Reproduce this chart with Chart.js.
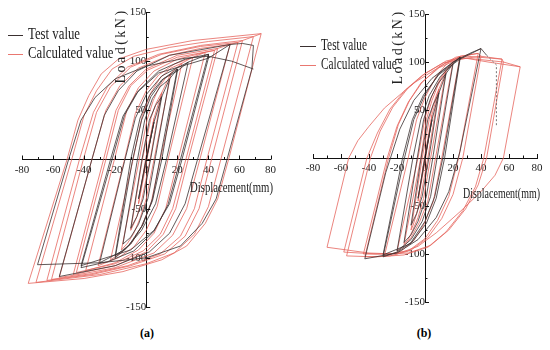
<!DOCTYPE html>
<html>
<head>
<meta charset="utf-8">
<script src="https://cdn.jsdelivr.net/npm/chart.js@4.4.1/dist/chart.umd.min.js"></script>
<style>
  html, body { margin: 0; padding: 0; background: #fff; }
  #wrap { position: relative; width: 550px; height: 350px; overflow: hidden; }
  .panel { position: absolute; top: 0; height: 318px; }
  #pa { left: 0; width: 280px; }
  #pb { left: 290px; width: 260px; }
  .cap { position: absolute; top: 326px; font: bold 12px 'Liberation Serif', serif; transform: translateX(-50%); }
</style>
</head>
<body>
<div id="wrap">
  <div class="panel" id="pa"><canvas id="chartA"></canvas></div>
  <div class="panel" id="pb"><canvas id="chartB"></canvas></div>
  <div class="cap" style="left:147px">(a)</div>
  <div class="cap" style="left:424px">(b)</div>
</div>
<script>
// tick labels
const xTicks = [-80, -60, -40, -20, 0, 20, 40, 60, 80];
const yTicks = [-150, -100, -50, 50, 100, 150];
const seriesNames = ['Test value', 'Calculated value'];

// panel (a) - test, [displacement mm, load kN]
const testA = [
  [0,0],[5,38],[0,-1],[-5,-40],[0,1],[5,38],
  [10,64],[3,2],[-2,-40],[-6,-58],[-10,-70],[-3,-2],[2,40],[6,55],[10,64],
  [15,82],[6,3],[1,-40],[-5,-66],[-10,-79],[-15,-86],[-6,-3],[-1,40],[4,62],[9,74],[15,82],
  [20,92],[9,2],[4,-40],[-2,-66],[-10,-86],[-20,-100],[-9,-2],[-3,40],[3,64],[11,82],[20,92],
  [20,90],[10,0],[4,-42],[-3,-68],[-11,-87],[-20,-98],[-10,0],[-4,42],[2,65],[10,81],[20,90],
  [27,99],[13,0],[6,-45],[-3,-72],[-14,-92],[-30,-105],[-14,-2],[-7,42],[0,66],[10,85],[27,99],
  [40,107],[22,0],[14,-46],[5,-73],[-8,-93],[-25,-104],[-42,-110],[-22,0],[-14,45],[-5,70],[8,90],[25,102],[40,107],
  [40,103],[23,0],[15,-45],[5,-72],[-10,-92],[-42,-108],[-23,0],[-15,44],[-6,68],[8,88],[40,103],
  [54,117],[33,0],[25,-45],[15,-75],[2,-94],[-20,-108],[-56,-119],[-35,0],[-27,45],[-18,70],[-6,90],[15,106],[54,117],[62,118],[69,116],[68,92],
  [52,0],[45,-40],[36,-65],[22,-88],[0,-100],[-30,-105],[-70,-107],[-50,0],[-42,40],[-33,63],[-20,82],[0,95],[25,103],[40,105],[55,100],[69,92]
];

// panel (a) - calculated
const calcA = [
  [5,42],[-0.5,0],[-5,-45],[0.5,0],[5,42],
  [10,68],[2.5,0],[-3,-42],[-6,-58],[-8.5,-67],[-10,-72],[-2.5,0],[3,42],[6,56],[8.5,64],[10,68],
  [16,88],[5,0],[0,-40],[-4,-60],[-8,-75],[-12,-85],[-16,-92],[-4.5,0],[0.5,40],[4.5,60],[8.5,74],[12.5,83],[16,88],
  [23,98],[9,0],[3,-45],[-3,-68],[-9,-84],[-16,-95],[-23,-102],[-8.5,0],[-2.5,45],[3,68],[9,83],[16,93],[23,98],
  [30,104],[14,0],[7,-48],[0,-72],[-8,-89],[-18,-100],[-31,-108],[-14,0],[-7,47],[0,70],[8,86],[18,97],[30,104],
  [38,109],[20.5,0],[12.5,-50],[5,-75],[-5,-92],[-20,-105],[-39,-113],[-20.5,0],[-12.5,50],[-5,73],[5,90],[20,102],[38,109],
  [44,111],[25.5,0],[17,-50],[9,-76],[-2,-93],[-20,-106],[-45,-115],[-26,0],[-18,50],[-10,75],[1,91],[20,104],[44,111],
  [46,113],[27,0],[19,-50],[11,-76],[0,-94],[-20,-108],[-47,-117],[-27.5,0],[-19.5,50],[-11,75],[0,92],[20,106],[46,113],
  [54,117],[34.5,0],[26,-50],[17,-77],[5,-95],[-20,-110],[-40,-116],[-56,-120],[-35,0],[-26,50],[-17,75],[-5,93],[15,106],[35,113],[54,117],
  [59,119],[39,0],[31,-50],[22,-78],[9,-96],[-12,-108],[-35,-116],[-61,-122],[-40.5,0],[-32,48],[-23,74],[-10,94],[10,107],[35,115],[59,119],
  [62,121],[42,0],[34,-50],[25,-78],[12,-96],[-10,-108],[-35,-117],[-64,-123],[-43,0],[-34,48],[-25,74],[-12,94],[8,107],[35,116],[62,121],
  [69,125],[48,0],[40,-48],[31,-76],[18,-95],[0,-106],[-30,-117],[-71,-125],[-48,0],[-40,45],[-32,70],[-22,92],[-8,105],[15,114],[40,120],[69,125],
  [74,128],[53,0],[46,-40],[38,-65],[26,-88],[10,-102],[-15,-114],[-40,-121],[-76,-126],[-51,0],[-44,40],[-37,65],[-29,87],[-18,102],[0,112],[30,121],[74,128]
];

// panel (b) - test
const testB = [
  [0,0],[5,40],[0,-1],[-5,-42],[0,1],[5,40],
  [10,68],[3,2],[-2,-40],[-6,-58],[-10,-70],[-3,-2],[2,40],[6,56],[10,68],
  [15,88],[6,4],[1,-40],[-5,-66],[-10,-80],[-15,-88],[-6,-4],[-1,40],[4,62],[9,77],[15,88],
  [20,98],[9,3],[4,-40],[-2,-66],[-10,-85],[-20,-97],[-9,-3],[-3,40],[3,65],[11,85],[20,98],
  [25,105],[13,2],[7,-40],[0,-66],[-10,-88],[-20,-98],[-30,-103],[-15,-2],[-8,40],[0,66],[10,88],[25,105],
  [25,103],[14,0],[8,-42],[1,-68],[-10,-89],[-30,-101],[-16,0],[-9,40],[-1,66],[10,87],[25,103],
  [40,114],[25,7],[17,-35],[8,-62],[-5,-85],[-20,-99],[-43,-105],[-28,-15],[-18,30],[-8,60],[5,83],[20,100],[32,109],[40,114],[44,107]
];
const testBDrop = [[44,107],[51,97],[51,34]];

// panel (b) - calculated
const calcB = [
  [5,45],[-0.5,0],[-5,-45],[0.5,0],[5,45],
  [10,72],[2,0],[-3,-40],[-6,-58],[-8.5,-70],[-10,-75],[-2,0],[3,40],[6,56],[8.5,67],[10,72],
  [15,90],[4,0],[-1,-42],[-5,-62],[-9,-76],[-12,-85],[-15,-90],[-3,0],[1,40],[5,60],[9,75],[12,84],[15,90],
  [20,100],[7.5,0],[2,-45],[-4,-67],[-10,-83],[-15,-92],[-20,-97],[-5,0],[0,42],[5,65],[11,83],[16,94],[20,100],
  [25,106],[12,0],[6,-45],[-1,-70],[-8,-86],[-17,-97],[-29,-102],[-12,0],[-6,40],[0,63],[8,85],[16,99],[25,106],
  [38,109],[24,0],[17,-40],[9,-65],[0,-84],[-12,-97],[-25,-102],[-43,-103],[-26,0],[-19,35],[-11,60],[-2,79],[10,95],[22,105],[38,109],
  [40,106],[27,0],[20,-38],[12,-63],[2,-83],[-10,-96],[-25,-100],[-44,-100],[-27,0],[-20,33],[-12,58],[-3,78],[10,94],[24,103],[40,106],
  [55,103],[42,0],[36,-30],[27,-55],[15,-77],[2,-93],[-15,-101],[-35,-103],[-56,-102],[-39,0],[-32,28],[-23,53],[-12,73],[0,88],[15,101],[30,106],[55,103],
  [56,100],[44,0],[38,-28],[29,-53],[17,-75],[4,-91],[-12,-99],[-35,-100],[-58,-98],[-41.5,0],[-34,26],[-25,51],[-14,71],[-2,86],[13,99],[30,104],[56,100],
  [68,95],[56,0],[50,-18],[40,-35],[25,-56],[8,-78],[-5,-92],[-20,-100],[-40,-99],[-70,-93],[-54.5,0],[-48,18],[-40,33],[-29,52],[-17,67],[-7,79],[5,90],[15,99],[25,105],[45,100],[68,95]
];

const testColor = '#3a3030';
const calcColor = 'rgba(230,100,92,0.88)';
const serif = "'Liberation Serif', 'Times New Roman', serif";

function pts(arr) { return arr.map(p => ({x: p[0], y: p[1]})); }

// axis ticks, titles and legend drawn in place
const decor = {
  id: 'decor',
  afterDraw(chart, args, o) {
    const {ctx, scales: {x, y}} = chart;
    const x0 = x.getPixelForValue(0), y0 = y.getPixelForValue(0);
    ctx.save();
    ctx.strokeStyle = '#111';
    ctx.lineWidth = 1;
    ctx.beginPath();
    for (let v = -80; v <= 80; v += 10) {
      const px = Math.round(x.getPixelForValue(v)) + 0.5;
      ctx.moveTo(px, y0);
      ctx.lineTo(px, y0 - (v % 20 === 0 ? 4 : 2.5));
    }
    for (let v = -150; v <= 150; v += 25) {
      const py = Math.round(y.getPixelForValue(v)) + 0.5;
      ctx.moveTo(x0, py);
      ctx.lineTo(x0 + (v % 50 === 0 ? 4 : 2.5), py);
    }
    ctx.stroke();

    // y title
    ctx.fillStyle = '#222';
    ctx.save();
    ctx.translate(o.yTitle.x, o.yTitle.y);
    ctx.rotate(-Math.PI / 2);
    ctx.font = o.yTitle.size + 'px ' + serif;
    ctx.letterSpacing = o.yTitle.spacing + 'px';
    ctx.textAlign = 'center';
    ctx.textBaseline = 'middle';
    ctx.fillText('Load(kN)', 0, 0);
    ctx.restore();

    // x title
    ctx.save();
    ctx.font = o.xTitle.size + 'px ' + serif;
    ctx.textBaseline = 'middle';
    const w = ctx.measureText('Displacement(mm)').width;
    ctx.translate(o.xTitle.x, o.xTitle.y);
    ctx.scale(o.xTitle.w / w, 1);
    ctx.fillText('Displacement(mm)', 0, 0);
    ctx.restore();

    // legend
    const lg = o.legend;
    ctx.save();
    ctx.font = lg.size + 'px ' + serif;
    const sx = lg.w / ctx.measureText(seriesNames[0]).width;
    [testColor, calcColor].forEach((c, i) => {
      const ly = lg.y + i * lg.gap;
      ctx.strokeStyle = c;
      ctx.lineWidth = 1;
      ctx.beginPath();
      ctx.moveTo(lg.x, ly + 0.5);
      ctx.lineTo(lg.x + lg.len, ly + 0.5);
      ctx.stroke();
      ctx.save();
      ctx.translate(lg.x + lg.len + 5, ly);
      ctx.scale(sx, 1);
      ctx.fillStyle = '#222';
      ctx.textBaseline = 'middle';
      ctx.fillText(seriesNames[i], 0, 0);
      ctx.restore();
    });
    ctx.restore();
    ctx.restore();
  }
};

function makeChart(id, test, calc, extra, pad, deco) {
  const datasets = [
    {label: seriesNames[0], data: pts(test), borderColor: testColor, borderWidth: 0.8},
    {label: seriesNames[1], data: pts(calc), borderColor: calcColor, borderWidth: 0.9}
  ];
  if (extra) {
    datasets.unshift({label: 'drop', data: pts(extra), borderColor: '#666', borderWidth: 0.9, borderDash: [2, 2]});
  }
  datasets.forEach(d => { d.showLine = true; d.pointRadius = 0; d.tension = 0; d.fill = false; });
  const tickFont = {family: serif, size: 11};
  return new Chart(document.getElementById(id), {
    type: 'scatter',
    data: {datasets},
    options: {
      responsive: true,
      maintainAspectRatio: false,
      animation: false,
      layout: {padding: pad},
      plugins: {legend: {display: false}, tooltip: {enabled: false}, decor: deco},
      scales: {
        x: {
          type: 'linear', min: -80, max: 80, position: {y: 0},
          afterBuildTicks: s => { s.ticks = xTicks.map(v => ({value: v})); },
          grid: {display: true, drawOnChartArea: false, drawTicks: false},
          border: {display: true, color: '#111', width: 1},
          ticks: {font: tickFont, color: '#222', padding: 4, maxRotation: 0, autoSkip: false}
        },
        y: {
          type: 'linear', min: -150, max: 150, position: {x: 0},
          afterBuildTicks: s => { s.ticks = yTicks.map(v => ({value: v})); },
          grid: {display: true, drawOnChartArea: false, drawTicks: false},
          border: {display: true, color: '#111', width: 1},
          ticks: {font: tickFont, color: '#222', padding: 3, autoSkip: false}
        }
      }
    },
    plugins: [decor]
  });
}

makeChart('chartA', testA, calcA, null,
  {left: 22, top: 12, right: 8, bottom: 11},
  {
    yTitle: {x: 121, y: 46, size: 14, spacing: 2.5},
    xTitle: {x: 190, y: 188, size: 14, w: 83},
    legend: {x: 8, y: 35, gap: 19, len: 15, size: 16, w: 52}
  });

makeChart('chartB', testB, calcB, testBDrop,
  {left: 23, top: 14, right: 13, bottom: 16},
  {
    yTitle: {x: 108, y: 47, size: 14, spacing: 2.5},
    xTitle: {x: 173, y: 194, size: 14, w: 77},
    legend: {x: 10, y: 46, gap: 19, len: 16, size: 16, w: 46}
  });
</script>
</body>
</html>
